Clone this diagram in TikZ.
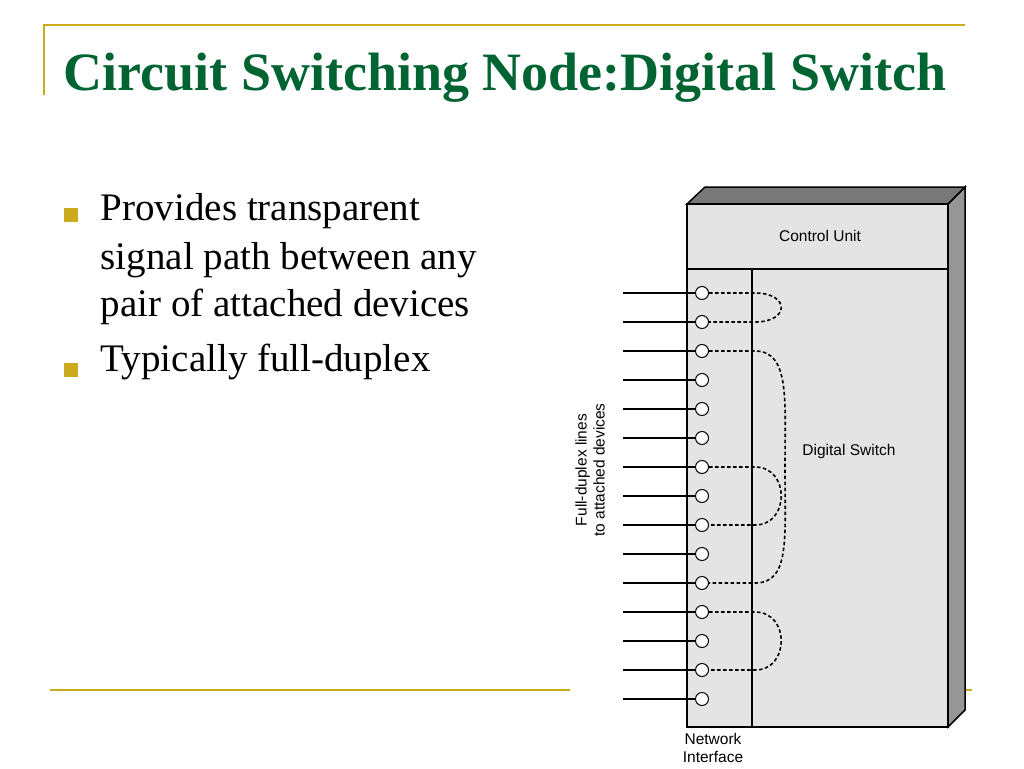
\documentclass[tikz,border=0pt]{standalone}
\usepackage{fontspec}
\setmainfont{Liberation Serif}
\newfontfamily\arialf{Liberation Sans}
\definecolor{gold}{RGB}{204,170,30}
\definecolor{ttl}{RGB}{0,100,50}
\definecolor{boxf}{RGB}{228,228,228}
\definecolor{sidef}{RGB}{150,150,150}
\begin{document}
\begin{tikzpicture}[x=1pt,y=-1pt,line width=1.5pt,
  port/.style={circle,draw,fill=white,minimum size=13pt,inner sep=0pt,line width=1pt},
  lbl/.style={font=\arialf\fontsize{15.5}{18}\selectfont,align=center},
  bul/.style={anchor=west,font=\fontsize{39}{44}\selectfont,inner sep=0pt},
  dl/.style={line width=1.6pt,dash pattern=on 3.5pt off 2.5pt}]
\useasboundingbox (0,0) rectangle (1024,768);
% decorations
\draw[gold,line width=1.5pt] (44,95) -- (44,25) -- (965,25);
\draw[gold,line width=1.5pt] (50,690) -- (570,690) (948,690) -- (972,690);
\node[anchor=base west,text=ttl,font=\bfseries\fontsize{54}{58}\selectfont,inner sep=0pt] (title) at (63,90) {Circuit Switching Node:Digital Switch};
\fill[gold] (64,208) rectangle (78,222);
\fill[gold] (64,363) rectangle (78,377);
\node[bul] (b1) at (100,211) {Provides transparent};
\node[bul] (b2) at (100,260) {signal path between any};
\node[bul] (b3) at (100,307) {pair of attached devices};
\node[bul] (b4) at (100,362) {Typically full-duplex};
% box
\draw[fill=sidef] (948,204) -- (965,187) -- (965,710) -- (948,727) -- cycle;
\draw[fill=sidef!80!black] (687,204) -- (705,187) -- (965,187) -- (948,204) -- cycle;
\draw[fill=boxf] (687,204) rectangle (948,727);
\draw (687,269) -- (948,269) (752,269) -- (752,727);
\node[lbl] (cu) at (820,236) {Control Unit};
\node[lbl] (ds) at (849,451) {Digital Switch};
\node[lbl,anchor=north] (ni) at (713,729) {Network\\Interface};
\node[lbl,rotate=90] (fd) at (590,470) {Full-duplex lines\\to attached devices};
\foreach \i in {1,...,15}{
  \node[port] (p\i) at (702,{264+29*\i}) {};
  \coordinate (e\i) at (623,{264+29*\i});
  \draw (e\i) -- (p\i);
}
\draw[dl] (p1) -- (755,293) .. controls (790,293) and (790,322) .. (755,322) -- (p2);
\draw[dl] (p3) -- (755,351) .. controls (790,351) and (785,400) .. (785,467) .. controls (785,540) and (790,583) .. (755,583) -- (p11);
\draw[dl] (p7) -- (755,467) .. controls (790,467) and (790,525) .. (755,525) -- (p9);
\draw[dl] (p12) -- (755,612) .. controls (790,612) and (790,670) .. (755,670) -- (p14);
\end{tikzpicture}
\end{document}
